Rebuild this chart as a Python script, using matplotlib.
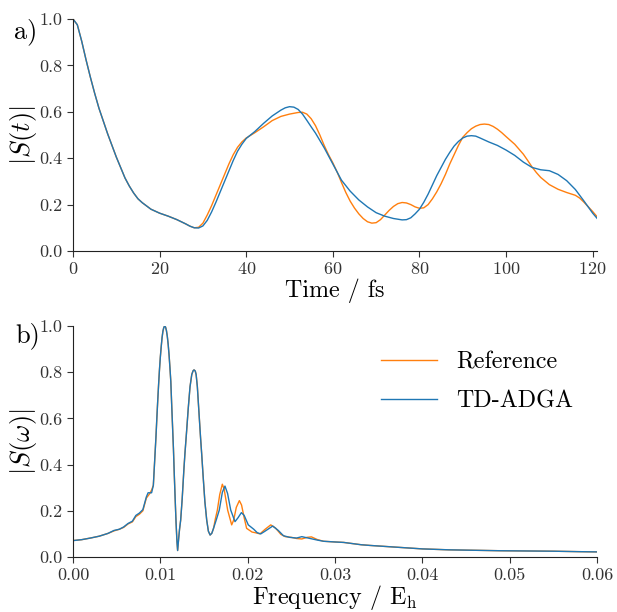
import matplotlib
matplotlib.use('Agg')
import matplotlib.pyplot as plt

plt.rcParams['font.family'] = 'serif'
plt.rcParams['font.serif'] = ['cmr10']
plt.rcParams['mathtext.fontset'] = 'cm'
plt.rcParams['axes.formatter.use_mathtext'] = True

ORANGE = '#ff7f0e'
BLUE = '#1f77b4'

# panel a) autocorrelation |S(t)|, time in fs
t_ref = [0, 1, 2, 3, 4, 5, 6, 7, 8, 9, 10, 11, 12, 13, 14, 15, 16, 18, 20, 22, 24, 26, 27, 28,
         29, 30, 31, 32, 33, 34, 35, 36, 37, 38, 39, 40, 42, 44, 46, 48, 50, 52, 53, 54, 55, 56,
         57, 58, 59, 60, 61, 62, 63, 64, 65, 66, 67, 68, 69, 70, 71, 72, 73, 74, 75, 76, 77, 78,
         79, 80, 81, 82, 83, 84, 85, 86, 87, 88, 89, 90, 91, 92, 93, 94, 95, 96, 97, 98, 99, 100,
         102, 104, 105, 106, 107, 108, 110, 112, 114, 116, 117, 118, 119, 120, 121]
s_ref = [1.0, 0.975, 0.905, 0.825, 0.75, 0.68, 0.615, 0.56, 0.505, 0.455, 0.405, 0.36, 0.315,
         0.28, 0.25, 0.225, 0.208, 0.18, 0.163, 0.15, 0.135, 0.117, 0.107, 0.10,
         0.102, 0.12, 0.155, 0.195, 0.24, 0.285, 0.33, 0.375, 0.415, 0.447, 0.47, 0.487, 0.51,
         0.535, 0.562, 0.58, 0.59, 0.597, 0.598, 0.59, 0.57, 0.54, 0.50, 0.455, 0.415, 0.38,
         0.34, 0.295, 0.252, 0.215, 0.185, 0.16, 0.14, 0.126, 0.12, 0.122, 0.135, 0.155, 0.175,
         0.192, 0.204, 0.209, 0.207, 0.2, 0.19, 0.184, 0.186, 0.2, 0.225, 0.255, 0.29, 0.33,
         0.375, 0.415, 0.455, 0.49, 0.51, 0.527, 0.538, 0.545, 0.547, 0.545, 0.537, 0.525, 0.51,
         0.493, 0.46, 0.417, 0.39, 0.362, 0.338, 0.317, 0.286, 0.266, 0.252, 0.24, 0.228, 0.21,
         0.19, 0.17, 0.148]

t_adga = [0, 1, 2, 3, 4, 5, 6, 7, 8, 9, 10, 11, 12, 13, 14, 15, 16, 18, 20, 22, 24, 26, 27, 28,
          29, 30, 31, 32, 33, 34, 35, 36, 37, 38, 39, 40, 42, 44, 46, 48, 49, 50, 51, 52, 53, 54,
          55, 56, 58, 60, 62, 64, 66, 68, 70, 72, 74, 76, 77, 78, 79, 80, 81, 82, 83, 84, 85, 86,
          87, 88, 89, 90, 91, 92, 93, 94, 96, 98, 100, 102, 104, 106, 108, 110, 112, 114, 116,
          118, 120, 121]
s_adga = [1.0, 0.975, 0.905, 0.825, 0.75, 0.68, 0.615, 0.56, 0.505, 0.455, 0.405, 0.36, 0.315,
          0.28, 0.25, 0.225, 0.208, 0.18, 0.163, 0.15, 0.135, 0.117, 0.107, 0.10,
          0.099, 0.108, 0.132, 0.168, 0.21, 0.255, 0.30, 0.345, 0.39, 0.43, 0.46, 0.485, 0.515,
          0.55, 0.582, 0.607, 0.617, 0.622, 0.62, 0.61, 0.59, 0.563, 0.535, 0.508, 0.445, 0.375,
          0.305, 0.258, 0.22, 0.19, 0.165, 0.15, 0.14, 0.134, 0.135, 0.143, 0.16, 0.18, 0.21,
          0.245, 0.285, 0.325, 0.36, 0.395, 0.425, 0.452, 0.472, 0.487, 0.495, 0.497, 0.495,
          0.487, 0.47, 0.455, 0.435, 0.412, 0.383, 0.36, 0.35, 0.346, 0.33, 0.303, 0.265, 0.215,
          0.163, 0.141]

# panel b) spectrum |S(omega)|, frequency in Eh
f_ref = [0.0, 0.001, 0.002, 0.003, 0.004, 0.0047, 0.0053, 0.0058, 0.0063, 0.0068, 0.0072,
         0.0076, 0.008, 0.0084, 0.0088, 0.009, 0.0092, 0.0093, 0.0094, 0.0095, 0.0096, 0.0097,
         0.0098, 0.0099, 0.01, 0.0101, 0.0102, 0.0103, 0.0104, 0.0105, 0.0106, 0.0107, 0.0108,
         0.0109, 0.011, 0.0111, 0.0112, 0.0113, 0.0114, 0.0115, 0.0116, 0.0117, 0.0118, 0.0119,
         0.01198, 0.0121, 0.0122, 0.01233, 0.0125, 0.0127, 0.01282, 0.013, 0.0132, 0.0134,
         0.0136, 0.01375, 0.01386, 0.014, 0.0141, 0.01424, 0.0144, 0.0146, 0.01473, 0.0149,
         0.0151, 0.01531, 0.0155, 0.0157, 0.0159, 0.0161, 0.0163, 0.01653, 0.0168, 0.0171,
         0.0173, 0.01771, 0.01817, 0.0184, 0.0187, 0.01905, 0.0193, 0.0196, 0.01988, 0.0205,
         0.021, 0.02141, 0.022, 0.02264, 0.0232, 0.0238, 0.0243, 0.025, 0.0256, 0.0262,
         0.0268, 0.0273, 0.028, 0.0287, 0.03, 0.031, 0.032, 0.033, 0.034, 0.036, 0.038, 0.04,
         0.043, 0.046, 0.049, 0.052, 0.055, 0.058, 0.06]
a_ref = [0.071, 0.075, 0.082, 0.09, 0.102, 0.113, 0.12, 0.128, 0.143, 0.152, 0.175, 0.185,
         0.2, 0.255, 0.275, 0.29, 0.31, 0.38, 0.45, 0.52, 0.60, 0.675, 0.745, 0.81, 0.865,
         0.91, 0.95, 0.978, 0.994, 1.0, 0.995, 0.98, 0.955, 0.92, 0.875, 0.82, 0.76, 0.66,
         0.565, 0.47, 0.355, 0.25, 0.15, 0.07, 0.028, 0.08, 0.12, 0.16, 0.25, 0.38, 0.449,
         0.54, 0.645, 0.737, 0.79, 0.806, 0.81, 0.805, 0.79, 0.737, 0.64, 0.52, 0.449, 0.35,
         0.24, 0.16, 0.112, 0.095, 0.103, 0.125, 0.165, 0.203, 0.27, 0.315, 0.295, 0.203,
         0.139, 0.16, 0.215, 0.244, 0.225, 0.17, 0.124, 0.108, 0.104, 0.1, 0.12, 0.139, 0.125,
         0.098, 0.088, 0.085, 0.08, 0.078, 0.085, 0.087, 0.075, 0.068, 0.065, 0.063, 0.058,
         0.053, 0.05, 0.045, 0.04, 0.035, 0.031, 0.029, 0.027, 0.026, 0.025, 0.023, 0.022]

f_adga = [0.0, 0.001, 0.002, 0.003, 0.004, 0.0047, 0.0053, 0.0058, 0.0063, 0.0068, 0.0072,
          0.0076, 0.008, 0.0084, 0.0086, 0.009, 0.0092, 0.0093, 0.0094, 0.0095, 0.0096, 0.0097,
          0.0098, 0.0099, 0.01, 0.0101, 0.0102, 0.0103, 0.0104, 0.0105, 0.0106, 0.0107, 0.0108,
          0.0109, 0.011, 0.0111, 0.0112, 0.0113, 0.0114, 0.0115, 0.0116, 0.0117, 0.0118, 0.0119,
          0.01198, 0.0121, 0.0122, 0.01233, 0.0125, 0.0127, 0.01282, 0.013, 0.0132, 0.0134,
          0.0136, 0.01375, 0.01386, 0.014, 0.0141, 0.01424, 0.0144, 0.0146, 0.01473, 0.0149,
          0.0151, 0.01531, 0.0155, 0.0157, 0.0159, 0.0161, 0.0164, 0.01675, 0.0171, 0.0174,
          0.0177, 0.01806, 0.01855, 0.0189, 0.01928, 0.0196, 0.02007, 0.0207, 0.0211, 0.0215,
          0.022, 0.02287, 0.0235, 0.0241, 0.0248, 0.0256, 0.0262, 0.0268, 0.0274, 0.028, 0.0287,
          0.03, 0.031, 0.032, 0.033, 0.034, 0.036, 0.038, 0.04, 0.043, 0.046, 0.049, 0.052,
          0.055, 0.058, 0.06]
a_adga = [0.071, 0.075, 0.082, 0.09, 0.102, 0.115, 0.12, 0.13, 0.145, 0.155, 0.18, 0.19,
          0.205, 0.26, 0.278, 0.278, 0.31, 0.38, 0.45, 0.52, 0.60, 0.675, 0.745, 0.81, 0.865,
          0.91, 0.95, 0.978, 0.994, 1.0, 0.995, 0.98, 0.955, 0.92, 0.875, 0.82, 0.76, 0.66,
          0.565, 0.47, 0.355, 0.25, 0.15, 0.07, 0.028, 0.08, 0.12, 0.16, 0.25, 0.38, 0.449,
          0.54, 0.645, 0.737, 0.79, 0.806, 0.81, 0.805, 0.79, 0.737, 0.64, 0.52, 0.449, 0.35,
          0.24, 0.16, 0.112, 0.095, 0.103, 0.125, 0.16, 0.203, 0.28, 0.307, 0.275, 0.203,
          0.153, 0.17, 0.192, 0.18, 0.139, 0.12, 0.105, 0.1, 0.112, 0.134, 0.115, 0.092, 0.085,
          0.082, 0.088, 0.083, 0.078, 0.073, 0.068, 0.065, 0.063, 0.058, 0.053, 0.05, 0.045,
          0.04, 0.035, 0.031, 0.029, 0.027, 0.026, 0.025, 0.023, 0.022]

fig = plt.figure(figsize=(6.17, 6.12), dpi=100)
ax1 = fig.add_axes([0.1183, 0.5899, 0.8493, 0.3791])
ax2 = fig.add_axes([0.1183, 0.0899, 0.8493, 0.3774])

ax1.plot(t_ref, s_ref, color=ORANGE, lw=1.0, label='Reference')
ax1.plot(t_adga, s_adga, color=BLUE, lw=1.0, label='TD-ADGA')
ax1.set_xlim(0, 121)
ax1.set_ylim(0, 1.0)
ax1.set_xticks([0, 20, 40, 60, 80, 100, 120])
ax1.set_yticks([0.0, 0.2, 0.4, 0.6, 0.8, 1.0])
ax1.set_yticklabels(['0.0', '0.2', '0.4', '0.6', '0.8', '1.0'])
ax1.set_xlabel('Time / fs', fontsize=17.3, labelpad=1)
ax1.set_ylabel(r'$|S(t)|$', fontsize=19, labelpad=0)

ax2.plot(f_ref, a_ref, color=ORANGE, lw=1.0, label='Reference')
ax2.plot(f_adga, a_adga, color=BLUE, lw=1.0, label='TD-ADGA')
ax2.set_xlim(0, 0.06)
ax2.set_ylim(0, 1.0)
ax2.set_xticks([0.0, 0.01, 0.02, 0.03, 0.04, 0.05, 0.06])
ax2.set_xticklabels(['0.00', '0.01', '0.02', '0.03', '0.04', '0.05', '0.06'])
ax2.set_yticks([0.0, 0.2, 0.4, 0.6, 0.8, 1.0])
ax2.set_yticklabels(['0.0', '0.2', '0.4', '0.6', '0.8', '1.0'])
ax2.set_xlabel(r'Frequency / E$_\mathrm{h}$', fontsize=17.3, labelpad=0)
ax2.set_ylabel(r'$|S(\omega)|$', fontsize=19, labelpad=0)
ax2.legend(loc='upper right', frameon=False, fontsize=17.3, handlelength=2.3,
           labelspacing=0.72, bbox_to_anchor=(0.995, 0.985))

for ax in (ax1, ax2):
    ax.spines['top'].set_visible(False)
    ax.spines['right'].set_visible(False)
    ax.tick_params(labelsize=13, colors='#333333', labelcolor='#333333', length=4)
    for sp in ('left', 'bottom'):
        ax.spines[sp].set_color('#222222')

fig.text(0.022, 0.948, 'a)', fontsize=19, va='center')
fig.text(0.025, 0.452, 'b)', fontsize=19, va='center')

fig.savefig('out.png', dpi=100)
